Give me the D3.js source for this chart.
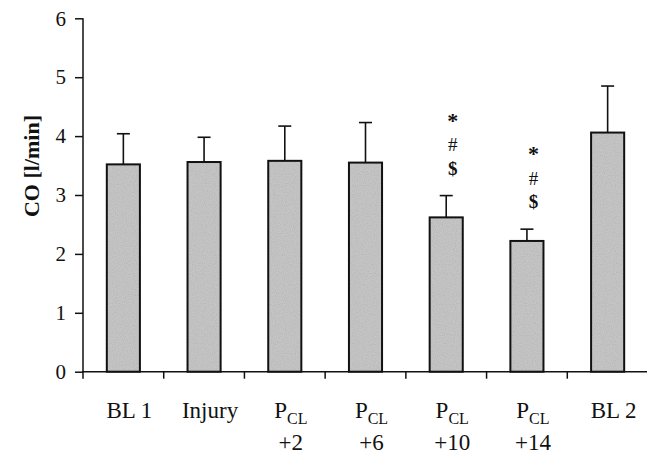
<!DOCTYPE html>
<html>
<head>
<meta charset="utf-8">
<script src="https://cdn.jsdelivr.net/npm/d3@7"></script>
<style>
  html, body { margin: 0; padding: 0; background: #fff; }
  svg { display: block; }
  text { font-family: "Liberation Serif", "Times New Roman", serif; fill: #111; }
</style>
</head>
<body>
<svg id="chart" width="647" height="454"></svg>
<script>
// Cardiac output per phase (mean and SD)
const phases = ["BL 1", "Injury", "PCL +2", "PCL +6", "PCL +10", "PCL +14", "BL 2"];
const meanCO = [3.52, 3.56, 3.58, 3.55, 2.62, 2.22, 4.06];
const sdCO   = [0.52, 0.42, 0.59, 0.68, 0.37, 0.20, 0.79];
// Significance markers per phase
const marks = [[], [], [], [], ["*", "#", "$"], ["*", "#", "$"], []];
// Two-line category labels: [main, subscript, second line]
const labelParts = [
  ["BL 1", "", ""], ["Injury", "", ""],
  ["P", "CL", "+2"], ["P", "CL", "+6"], ["P", "CL", "+10"], ["P", "CL", "+14"],
  ["BL 2", "", ""]
];
const yTicks = [0, 1, 2, 3, 4, 5, 6];

const svg = d3.select("#chart");
const x0 = 83, x1 = 648, yBottom = 371.7, yTop = 18.3;

const x = d3.scaleBand().domain(phases).range([x0, x1])
  .paddingInner(0.59).paddingOuter(0.295);
const y = d3.scaleLinear().domain([0, 6]).range([yBottom, yTop]);

// Bar grain texture
const defs = svg.append("defs");
const f = defs.append("filter").attr("id", "grain").attr("x", 0).attr("y", 0)
  .attr("width", 1).attr("height", 1);
f.append("feTurbulence").attr("type", "fractalNoise").attr("baseFrequency", 0.9)
  .attr("numOctaves", 1).attr("seed", 3).attr("result", "noise");
f.append("feColorMatrix").attr("in", "noise").attr("type", "matrix")
  .attr("values", "0 0 0 0 0.25  0 0 0 0 0.25  0 0 0 0 0.25  0 0 0 0.7 -0.3").attr("result", "dots");
f.append("feComposite").attr("in", "dots").attr("in2", "SourceGraphic")
  .attr("operator", "in").attr("result", "dotsIn");
f.append("feMerge").selectAll("feMergeNode").data(["SourceGraphic", "dotsIn"])
  .join("feMergeNode").attr("in", d => d);

// Bars
const bw = x.bandwidth();
svg.append("g").selectAll("rect").data(phases).join("rect")
  .attr("x", d => x(d))
  .attr("y", (d, i) => y(meanCO[i]))
  .attr("width", bw)
  .attr("height", (d, i) => yBottom - y(meanCO[i]))
  .attr("fill", "#c4c4c4")
  .attr("filter", "url(#grain)");
svg.append("g").selectAll("rect").data(phases).join("rect")
  .attr("x", d => x(d))
  .attr("y", (d, i) => y(meanCO[i]))
  .attr("width", bw)
  .attr("height", (d, i) => yBottom - y(meanCO[i]))
  .attr("fill", "none")
  .attr("stroke", "#111").attr("stroke-width", 2);

// Upper error bars
const eb = svg.append("g").attr("stroke", "#111").attr("stroke-width", 1.6);
phases.forEach((p, i) => {
  const cx = x(p) + bw / 2;
  const top = y(meanCO[i] + sdCO[i]);
  eb.append("line").attr("x1", cx).attr("x2", cx).attr("y1", y(meanCO[i])).attr("y2", top);
  eb.append("line").attr("x1", cx - 6.5).attr("x2", cx + 6.5).attr("y1", top).attr("y2", top);
});

// Y axis
const yAxis = d3.axisLeft(y).tickValues(yTicks).tickSize(8).tickPadding(9)
  .tickFormat(d3.format("d"));
const gy = svg.append("g").attr("transform", `translate(${x0},0)`).call(yAxis);
gy.select(".domain").remove();
gy.append("line").attr("x1", 0).attr("x2", 0).attr("y1", yTop).attr("y2", yBottom)
  .attr("stroke", "#111").attr("stroke-width", 1.5);
gy.selectAll(".tick line").attr("stroke", "#111").attr("stroke-width", 1.5);
gy.selectAll(".tick text").attr("font-size", 21).attr("fill", "#111")
  .style("font-family", "'Liberation Serif', 'Times New Roman', serif");

// X axis: baseline with ticks at category boundaries
const gx = svg.append("g");
gx.append("line").attr("x1", x0 - 1).attr("x2", 647).attr("y1", yBottom).attr("y2", yBottom)
  .attr("stroke", "#111").attr("stroke-width", 1.5);
const step = x.step();
gx.selectAll("line.b").data(d3.range(phases.length)).join("line").attr("class", "b")
  .attr("x1", k => x0 + k * step).attr("x2", k => x0 + k * step)
  .attr("y1", yBottom).attr("y2", yBottom + 7)
  .attr("stroke", "#111").attr("stroke-width", 1.5);

// Category labels
const lab = svg.append("g");
phases.forEach((p, i) => {
  const cx = x(p) + bw / 2 + 6;
  const [main, sub, second] = labelParts[i];
  const t = lab.append("text").attr("x", cx).attr("y", 418)
    .attr("text-anchor", "middle").attr("font-size", 23);
  t.append("tspan").text(main);
  if (sub) {
    t.append("tspan").attr("font-size", 16).attr("dy", 6).text(sub);
    lab.append("text").attr("x", cx).attr("y", 450).attr("text-anchor", "middle")
      .attr("font-size", 23).text(second);
  }
});

// Y axis title
svg.append("text")
  .attr("transform", `translate(38.5,166) rotate(-90)`)
  .attr("text-anchor", "middle").attr("font-size", 22).attr("font-weight", "bold")
  .text("CO [l/min]");

// Significance markers above the error bars
const markStyle = {
  "*": { dy: -78, size: 22, weight: "bold", shift: 10 },
  "#": { dy: -51, size: 19, weight: "normal", shift: 6.5 },
  "$": { dy: -27, size: 19, weight: "bold", shift: 6 }
};
const gm = svg.append("g");
phases.forEach((p, i) => {
  const cx = x(p) + bw / 2 + 6.5;
  const top = y(meanCO[i] + sdCO[i]);
  marks[i].forEach(m => {
    const s = markStyle[m];
    gm.append("text").attr("x", cx).attr("y", top + s.dy + s.shift)
      .attr("text-anchor", "middle").attr("font-size", s.size)
      .attr("font-weight", s.weight).text(m);
  });
});
</script>
</body>
</html>
